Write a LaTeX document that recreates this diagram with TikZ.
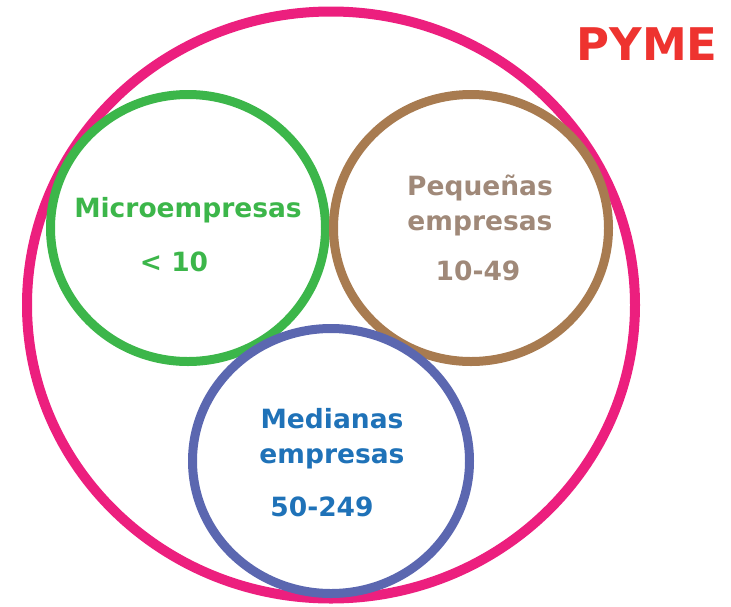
\documentclass[tikz,border=0pt]{standalone}
\usepackage{fontspec}
\setmainfont{DejaVu Sans}
\usepackage{tikz}

\definecolor{pymepink}{HTML}{EC1F7E}
\definecolor{pymered}{HTML}{EE332F}
\definecolor{microgreen}{HTML}{3CB64A}
\definecolor{pequebrown}{HTML}{A87B50}
\definecolor{pequetext}{HTML}{A08979}
\definecolor{medianaring}{HTML}{5B67B0}
\definecolor{medianatext}{HTML}{1F72B8}

\begin{document}
\begin{tikzpicture}[x=1pt, y=-1pt, ring/.style = {line width=9pt}, label/.style = {align=center, font=\bfseries\fontsize{26.5}{35}\selectfont, inner sep=0pt}]
    \useasboundingbox (0,0) rectangle (731,606);
    \draw[pymepink, line width=10pt] (331,305) ellipse [x radius=304, y radius=293.5];
    \draw[ring, microgreen] (188,228) ellipse [x radius=137.5, y radius=133.5];
    \draw[ring, pequebrown] (471,228) ellipse [x radius=137.5, y radius=133.5];
    \draw[ring, medianaring] (331,461) ellipse [x radius=138.5, y radius=132.5];
    \node[label, text=pymered, font=\bfseries\fontsize{45}{45}\selectfont] (pyme) at (647,44) {PYME};
    \node[label, text=microgreen] (micro) at (188,210) {Microempresas};
    \node[label, text=microgreen] (microval) at (174,262) {< 10};
    \node[label, text=pequetext] (peque) at (480,205) {Pequeñas\\empresas};
    \node[label, text=pequetext] (pequeval) at (478,271) {10-49};
    \node[label, text=medianatext] (mediana) at (332,439) {Medianas\\empresas};
    \node[label, text=medianatext] (medianaval) at (322,507) {50-249};
\end{tikzpicture}
\end{document}
